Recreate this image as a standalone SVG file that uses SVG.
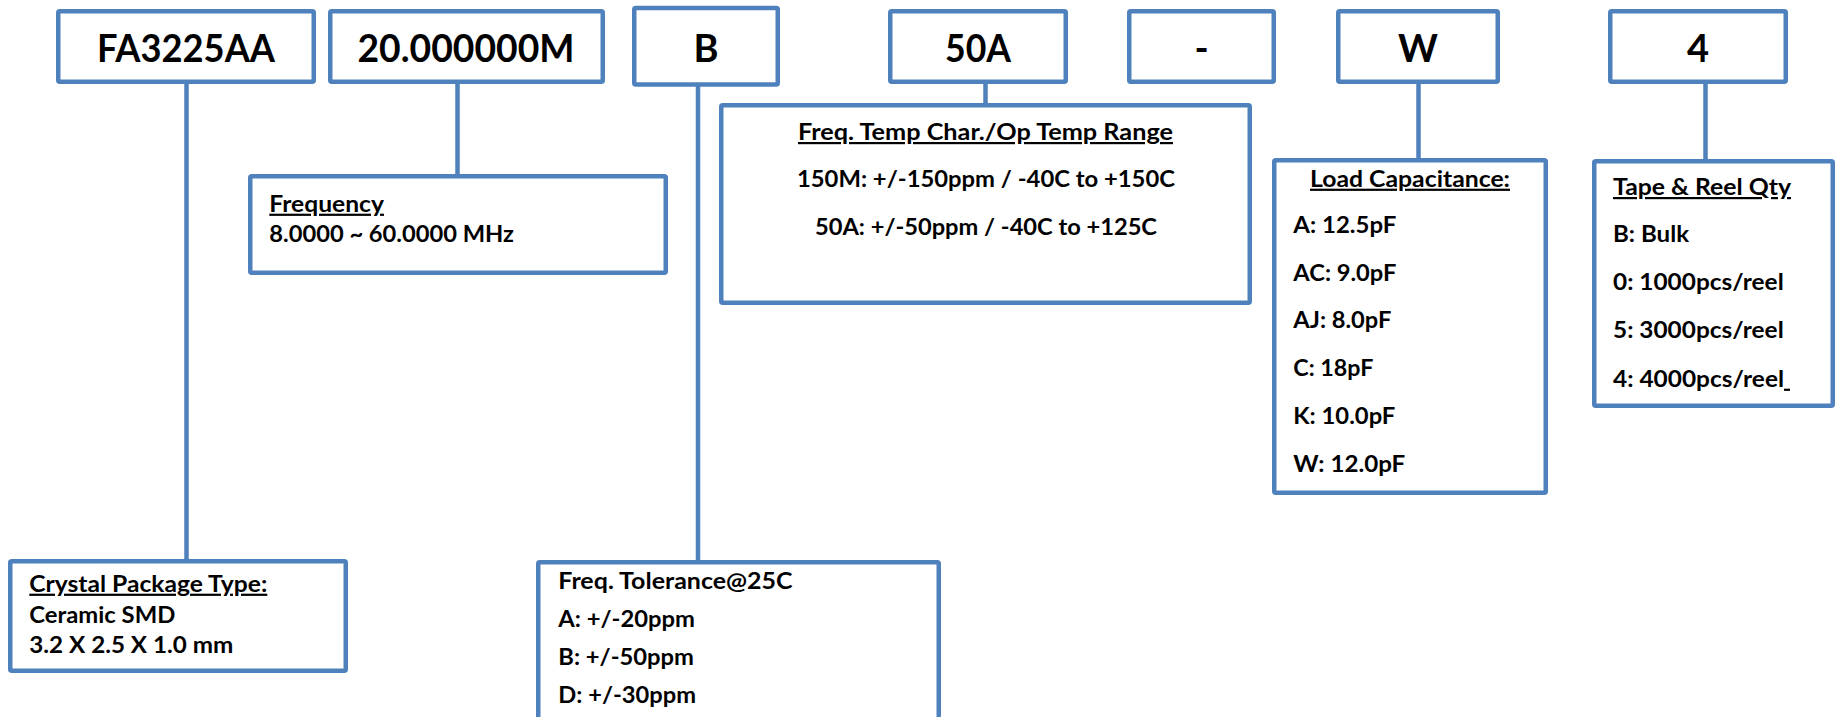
<svg xmlns="http://www.w3.org/2000/svg" width="1839" height="717" viewBox="0 0 1839 717">
<style>
.box{fill:#fff;stroke:#4F81BD;stroke-width:4.5}
.conn{stroke:#4F81BD;stroke-width:4.5;fill:none}
.lbl{font-family:Lato,"Liberation Sans",sans-serif;font-weight:bold;font-size:38px;fill:#000;text-anchor:middle}
.t{font-family:Lato,"Liberation Sans",sans-serif;font-weight:bold;font-size:22px;fill:#000}
.u{text-decoration:underline}
.c{text-anchor:middle}
</style>
<rect width="1839" height="717" fill="#fff"/>
<g id="connectors">
<line class="conn" x1="186.5" y1="82" x2="186.5" y2="561"/>
<line class="conn" x1="457.5" y1="82" x2="457.5" y2="176"/>
<line class="conn" x1="698" y1="84" x2="698" y2="562"/>
<line class="conn" x1="985.5" y1="82" x2="985.5" y2="105"/>
<line class="conn" x1="1418.5" y1="82" x2="1418.5" y2="160"/>
<line class="conn" x1="1705.5" y1="82" x2="1705.5" y2="161"/>
</g>
<g id="n-fa3225aa">
<rect class="box" x="58.25" y="11.25" width="255.5" height="70.5" rx="1.5"/>
<text class="lbl" x="186" y="61.7" textLength="178" lengthAdjust="spacingAndGlyphs">FA3225AA</text>
</g>
<g id="n-freqcode">
<rect class="box" x="330.25" y="11.25" width="272.5" height="70.5" rx="1.5"/>
<text class="lbl" x="466" y="61.7" textLength="217" lengthAdjust="spacingAndGlyphs">20.000000M</text>
</g>
<g id="n-b">
<rect class="box" x="634.25" y="8" width="143.5" height="76.5" rx="1.5"/>
<text class="lbl" x="706" y="61.7">B</text>
</g>
<g id="n-50a">
<rect class="box" x="890.25" y="11.25" width="175.5" height="70.5" rx="1.5"/>
<text class="lbl" x="978" y="61.7" textLength="66" lengthAdjust="spacingAndGlyphs">50A</text>
</g>
<g id="n-dash">
<rect class="box" x="1129.25" y="11.25" width="144.5" height="70.5" rx="1.5"/>
<text class="lbl" x="1201.5" y="61.7">-</text>
</g>
<g id="n-w">
<rect class="box" x="1338.25" y="11.25" width="159.5" height="70.5" rx="1.5"/>
<text class="lbl" x="1418" y="61.7">W</text>
</g>
<g id="n-4">
<rect class="box" x="1610.25" y="11.25" width="175.5" height="70.5" rx="1.5"/>
<text class="lbl" x="1698" y="61.7">4</text>
</g>
<g id="n-package">
<rect class="box" x="10.25" y="561.25" width="335.5" height="109.5" rx="1.5"/>
<text class="t u" x="29.3" y="591.7" textLength="238" lengthAdjust="spacingAndGlyphs">Crystal Package Type:</text>
<text class="t" x="29.3" y="623.3" textLength="146" lengthAdjust="spacingAndGlyphs">Ceramic SMD</text>
<text class="t" x="29.3" y="653.3" textLength="204" lengthAdjust="spacingAndGlyphs">3.2 X 2.5 X 1.0 mm</text>
</g>
<g id="n-frequency">
<rect class="box" x="250.25" y="176.25" width="415.5" height="96.5" rx="1.5"/>
<text class="t u" x="269.3" y="211.7" textLength="114.7" lengthAdjust="spacingAndGlyphs">Frequency</text>
<text class="t" x="269.3" y="241.7" textLength="244.7" lengthAdjust="spacingAndGlyphs">8.0000 ~ 60.0000 MHz</text>
</g>
<g id="n-temp">
<rect class="box" x="721.25" y="105.25" width="528.5" height="197.5" rx="1.5"/>
<text class="t u c" x="985.5" y="140" textLength="375" lengthAdjust="spacingAndGlyphs">Freq. Temp Char./Op Temp Range</text>
<text class="t c" x="986" y="187.3" textLength="378" lengthAdjust="spacingAndGlyphs">150M: +/-150ppm / -40C to +150C</text>
<text class="t c" x="986" y="235" textLength="342" lengthAdjust="spacingAndGlyphs">50A: +/-50ppm / -40C to +125C</text>
</g>
<g id="n-load">
<rect class="box" x="1274.25" y="160.25" width="271.5" height="332.5" rx="1.5"/>
<text class="t u c" x="1410" y="186.7" textLength="200" lengthAdjust="spacingAndGlyphs">Load Capacitance:</text>
<text class="t" x="1293.3" y="233" textLength="103" lengthAdjust="spacingAndGlyphs">A: 12.5pF</text>
<text class="t" x="1293.3" y="280.7" textLength="103" lengthAdjust="spacingAndGlyphs">AC: 9.0pF</text>
<text class="t" x="1293.3" y="328.3" textLength="98" lengthAdjust="spacingAndGlyphs">AJ: 8.0pF</text>
<text class="t" x="1293.3" y="376" textLength="80" lengthAdjust="spacingAndGlyphs">C: 18pF</text>
<text class="t" x="1293.3" y="424" textLength="102" lengthAdjust="spacingAndGlyphs">K: 10.0pF</text>
<text class="t" x="1293.3" y="471.7" textLength="112" lengthAdjust="spacingAndGlyphs">W: 12.0pF</text>
</g>
<g id="n-tape">
<rect class="box" x="1594.25" y="161.25" width="238.5" height="244.5" rx="1.5"/>
<text class="t u" x="1613" y="195" textLength="178" lengthAdjust="spacingAndGlyphs">Tape &amp; Reel Qty</text>
<text class="t" x="1613" y="241.7" textLength="76" lengthAdjust="spacingAndGlyphs">B: Bulk</text>
<text class="t" x="1613" y="290" textLength="170.7" lengthAdjust="spacingAndGlyphs">0: 1000pcs/reel</text>
<text class="t" x="1613" y="338" textLength="170.7" lengthAdjust="spacingAndGlyphs">5: 3000pcs/reel</text>
<text class="t" x="1613" y="386.7" textLength="177" lengthAdjust="spacingAndGlyphs">4: 4000pcs/reel<tspan class="u">&#160;</tspan></text>
</g>
<g id="n-tolerance">
<rect class="box" x="538.25" y="562.25" width="400.5" height="170" rx="1.5"/>
<text class="t" x="558.3" y="589.3" textLength="234.3" lengthAdjust="spacingAndGlyphs">Freq. Tolerance@25C</text>
<text class="t" x="558.3" y="626.7" textLength="136.7" lengthAdjust="spacingAndGlyphs">A: +/-20ppm</text>
<text class="t" x="558.3" y="665" textLength="135.7" lengthAdjust="spacingAndGlyphs">B: +/-50ppm</text>
<text class="t" x="558.3" y="703.3" textLength="137.7" lengthAdjust="spacingAndGlyphs">D: +/-30ppm</text>
</g>
</svg>
